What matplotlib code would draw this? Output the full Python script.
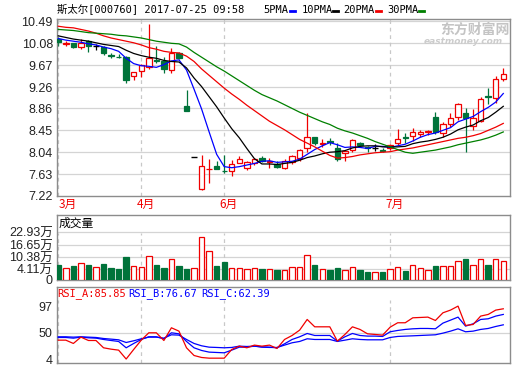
import numpy as np
import matplotlib
matplotlib.use('Agg')
import matplotlib.pyplot as plt
from matplotlib.lines import Line2D

plt.rcParams['font.family'] = ['Liberation Sans', 'Noto Sans CJK SC']

# ---- daily candles ----
opens = [10.17, 10.07, 10.08, 10.01, 10.13, 10.03, 10.02, 9.86, 9.83, 9.82,
         9.47, 9.57, 9.64, 9.77, 9.75, 9.58, 9.90, 8.91, 7.95, 7.35,
         7.72, 7.78, 7.69, 7.69, 7.83, 7.75, 7.83, 7.93, 7.86, 7.82,
         7.74, 7.85, 7.93, 8.12, 8.32, 8.19, 8.25, 8.12, 8.02, 8.09,
         8.21, 8.13, 8.12, 8.08, 8.12, 8.22, 8.32, 8.35, 8.38, 8.41,
         8.70, 8.40, 8.56, 8.70, 8.78, 8.54, 8.63, 9.09, 9.06, 9.41]
highs = [10.19, 10.12, 10.09, 10.17, 10.14, 10.07, 10.03, 9.89, 9.88, 9.84,
         9.55, 9.69, 10.44, 10.03, 9.82, 9.99, 9.92, 9.21, 7.95, 7.98,
         7.92, 7.88, 7.99, 7.90, 7.96, 7.88, 7.94, 7.96, 7.93, 7.88,
         7.91, 7.99, 8.10, 8.78, 8.33, 8.29, 8.30, 8.21, 8.07, 8.28,
         8.24, 8.16, 8.20, 8.12, 8.20, 8.48, 8.40, 8.50, 8.45, 8.46,
         8.79, 8.61, 8.78, 8.96, 8.87, 8.85, 9.07, 9.25, 9.46, 9.61]
lows = [10.03, 10.03, 9.99, 9.98, 9.92, 9.95, 9.87, 9.80, 9.80, 9.34,
        9.40, 9.45, 9.59, 9.72, 9.53, 9.53, 9.79, 8.82, 7.95, 7.33,
        7.47, 7.72, 7.65, 7.60, 7.83, 7.71, 7.81, 7.85, 7.74, 7.74,
        7.72, 7.82, 7.88, 8.05, 8.18, 8.13, 8.17, 7.88, 7.87, 8.04,
        8.14, 8.04, 8.07, 8.04, 8.09, 8.18, 8.21, 8.25, 8.33, 8.36,
        8.38, 8.33, 8.52, 8.65, 8.05, 8.46, 8.61, 8.94, 8.96, 9.38]
closes = [10.10, 10.08, 10.01, 10.08, 10.03, 10.03, 9.90, 9.85, 9.82, 9.39,
          9.55, 9.67, 9.81, 9.75, 9.60, 9.90, 9.81, 8.82, 7.95, 7.79,
          7.73, 7.72, 7.68, 7.82, 7.91, 7.85, 7.91, 7.87, 7.87, 7.76,
          7.88, 7.96, 8.09, 8.32, 8.22, 8.21, 8.24, 7.91, 8.07, 8.26,
          8.17, 8.12, 8.12, 8.07, 8.18, 8.29, 8.31, 8.41, 8.41, 8.44,
          8.42, 8.56, 8.68, 8.94, 8.68, 8.68, 9.04, 9.08, 9.41, 9.50]

# moving averages as drawn
ma5 = [10.17, 10.14, 10.12, 10.10, 10.07, 10.05, 10.01, 9.98, 9.93, 9.80,
       9.70, 9.66, 9.65, 9.63, 9.68, 9.75, 9.77, 9.58, 9.22, 8.85,
       8.42, 8.00, 7.77, 7.75, 7.77, 7.80, 7.83, 7.87, 7.88, 7.85,
       7.86, 7.87, 7.91, 8.00, 8.09, 8.16, 8.22, 8.18, 8.13, 8.14,
       8.13, 8.11, 8.15, 8.15, 8.13, 8.16, 8.19, 8.25, 8.32, 8.37,
       8.40, 8.45, 8.50, 8.61, 8.66, 8.71, 8.80, 8.88, 8.98, 9.14]
ma10 = [10.22, 10.19, 10.16, 10.14, 10.12, 10.09, 10.06, 10.04, 10.02, 9.95,
        9.89, 9.85, 9.82, 9.80, 9.76, 9.74, 9.73, 9.62, 9.43, 9.27,
        9.08, 8.89, 8.68, 8.48, 8.31, 8.11, 7.92, 7.82, 7.82, 7.81,
        7.83, 7.85, 7.89, 7.94, 7.97, 8.01, 8.04, 8.05, 8.07, 8.12,
        8.15, 8.16, 8.16, 8.14, 8.14, 8.14, 8.15, 8.20, 8.23, 8.25,
        8.28, 8.32, 8.38, 8.46, 8.51, 8.55, 8.63, 8.69, 8.79, 8.90]
ma20 = [10.40, 10.38, 10.37, 10.34, 10.31, 10.27, 10.22, 10.18, 10.15, 10.12,
        10.09, 10.05, 10.00, 9.97, 9.93, 9.91, 9.90, 9.84, 9.74, 9.60,
        9.48, 9.36, 9.24, 9.13, 9.03, 8.92, 8.82, 8.72, 8.62, 8.54,
        8.46, 8.37, 8.28, 8.21, 8.14, 8.06, 7.98, 7.93, 7.94, 7.96,
        7.99, 8.01, 8.03, 8.04, 8.05, 8.08, 8.10, 8.12, 8.15, 8.18,
        8.21, 8.24, 8.27, 8.30, 8.32, 8.35, 8.39, 8.45, 8.51, 8.58]
ma30 = [10.34, 10.33, 10.32, 10.30, 10.28, 10.27, 10.26, 10.25, 10.23, 10.22,
        10.20, 10.18, 10.15, 10.12, 10.10, 10.08, 10.07, 10.01, 9.91, 9.82,
        9.73, 9.64, 9.56, 9.47, 9.38, 9.29, 9.20, 9.12, 9.06, 9.00,
        8.93, 8.86, 8.79, 8.73, 8.67, 8.61, 8.56, 8.49, 8.44, 8.40,
        8.35, 8.30, 8.24, 8.19, 8.14, 8.09, 8.04, 8.02, 8.04, 8.06,
        8.08, 8.11, 8.14, 8.18, 8.21, 8.24, 8.27, 8.31, 8.36, 8.42]

# volume, in 万
volume = [8.06, 6.27, 7.52, 8.95, 8.06, 6.80, 8.60, 6.63, 5.91, 12.36,
          7.34, 6.98, 12.71, 8.06, 6.45, 11.10, 7.52, 5.91, 6.27, 22.93,
          15.40, 7.52, 9.49, 6.27, 6.63, 5.73, 6.27, 5.73, 5.73, 5.37,
          5.19, 6.80, 6.80, 13.25, 8.06, 5.73, 5.37, 6.27, 5.19, 7.16,
          5.37, 4.11, 4.48, 4.30, 5.73, 7.16, 4.84, 7.88, 6.27, 5.19,
          7.52, 7.34, 7.34, 10.03, 11.28, 7.88, 11.10, 8.06, 11.10, 10.03]

# RSI lines
rsi_a = [37.1, 37.1, 31.3, 42.4, 36.5, 36.5, 23.7, 21.3, 19.6, 4.0,
         20.8, 37.1, 50.0, 50.0, 36.5, 58.8, 52.9, 23.7, 10.2, 6.7,
         5.5, 5.5, 5.5, 20.8, 26.6, 23.7, 28.4, 26.6, 28.4, 22.5,
         38.3, 45.3, 54.7, 73.4, 60.5, 60.5, 60.5, 35.4, 47.1, 60.5,
         55.9, 48.2, 47.1, 45.9, 59.9, 67.6, 67.6, 76.3, 76.9, 77.5,
         71.6, 85.1, 89.8, 96.8, 62.9, 64.6, 79.3, 82.2, 89.8, 92.1]
rsi_b = [41.8, 41.8, 40.6, 42.4, 41.2, 40.6, 38.3, 36.5, 34.8, 23.7,
         31.3, 38.3, 43.0, 43.0, 39.5, 50.0, 48.2, 34.8, 23.7, 19.0,
         16.1, 15.5, 14.9, 19.6, 24.8, 24.8, 26.6, 25.4, 24.8, 23.7,
         30.7, 38.3, 43.0, 48.8, 45.3, 45.3, 45.3, 35.4, 43.0, 48.8,
         45.3, 44.2, 44.2, 43.6, 51.8, 54.1, 55.9, 57.0, 57.6, 57.6,
         57.0, 67.0, 72.2, 77.5, 61.7, 65.8, 73.4, 74.6, 79.3, 82.2]
rsi_c = [43.0, 43.0, 42.4, 43.0, 42.4, 41.8, 40.0, 38.9, 37.7, 33.0,
         36.0, 39.5, 42.4, 42.4, 40.6, 46.5, 45.9, 38.3, 31.3, 27.2,
         24.8, 24.3, 23.7, 24.3, 26.6, 26.0, 26.6, 24.8, 24.3, 24.3,
         28.4, 32.5, 34.8, 39.5, 38.3, 38.3, 38.3, 34.8, 37.1, 39.5,
         38.3, 37.7, 37.7, 37.7, 41.8, 43.6, 44.2, 44.7, 45.3, 45.9,
         46.5, 49.4, 52.9, 57.0, 51.8, 52.9, 55.9, 57.6, 61.1, 64.0]

price_ticks = [7.22, 7.63, 8.04, 8.45, 8.86, 9.26, 9.67, 10.08, 10.49]
vol_labels = ['0', '4.11万', '10.38万', '16.65万', '22.93万']
rsi_ticks = [4, 50, 97]
month_idx = [0, 11, 22, 44]
month_labels = ['3月', '4月', '6月', '7月']

RED = '#f00000'
GREEN = '#00733a'
BLUE = '#0000ff'
GRID = '#d4d4d4'
FRAME = '#8c8c8c'
MONO = ['DejaVu Sans Mono', 'Noto Sans CJK SC']

o = np.array(opens); c = np.array(closes)
x = np.arange(len(c))
up = c > o
down = c < o
flat = c == o
W = 0.72

fig = plt.figure(figsize=(5.2, 3.65), dpi=100)
ax1 = fig.add_axes([57/520, 1-196/365, 453/520, 176.7/365])
ax2 = fig.add_axes([57/520, 1-280/365, 453/520, 65/365])
ax3 = fig.add_axes([57/520, 1-363.3/365, 453/520, 76/365])

for ax in (ax1, ax2, ax3):
    for sp in ax.spines.values():
        sp.set_color(FRAME)
        sp.set_linewidth(1)
    ax.set_xlim(-0.17, 59.89)
    ax.set_xticks([])
    ax.tick_params(axis='y', length=0, pad=3, labelsize=9, labelcolor='#222')

# ---- price panel ----
ax1.set_ylim(7.22, 10.53)
ax1.set_yticks(price_ticks)
ax1.set_yticklabels(['%.2f' % v for v in price_ticks])
for v in price_ticks[1:]:
    ax1.axhline(v, color=GRID, lw=0.9, zorder=0)
for m in month_idx:
    ax1.axvline(m, color='#c8c8c8', lw=0.9, ls=(0, (3, 3)), zorder=0)

cols = np.where(up, RED, np.where(down, GREEN, 'black'))
ax1.vlines(x, lows, highs, colors=cols, lw=0.9, zorder=2)
ax1.bar(x[up], (c - o)[up], bottom=o[up], width=W, facecolor='white',
        edgecolor=RED, lw=0.9, zorder=3)
ax1.bar(x[down], (o - c)[down], bottom=c[down], width=W, facecolor=GREEN,
        edgecolor=GREEN, lw=0.9, zorder=3)
ax1.hlines(c[flat], x[flat] - W/2, x[flat] + W/2, colors='black', lw=1, zorder=3)

ma_sets = [(ma5, BLUE, '5PMA'), (ma10, 'black', '10PMA'),
           (ma20, RED, '20PMA'), (ma30, '#008000', '30PMA')]
for vals, col, name in ma_sets:
    ax1.plot(x, vals, color=col, lw=0.9, zorder=4)

for m, lab in zip(month_idx, month_labels):
    ax1.annotate(lab, xy=(max(m + 0.55, 1.3), -0.048), xycoords=('data', 'axes fraction'),
                 ha='center', va='center', color=RED, fontsize=8.5,
                 family=['Noto Sans CJK SC'])

# header
fig.text(57/520, 1-10/365, '斯太尔[000760] 2017-07-25 09:58', family=MONO,
         fontsize=7.5, va='center', ha='left')
text_x = [263, 302, 343, 387]
bar_x = [290, 333, 376, 419]
for (vals, col, name), tx, bx in zip(ma_sets, text_x, bar_x):
    fig.text(tx/520, 1-10/365, name, family=MONO, fontsize=7.5, va='center', ha='left')
    fig.add_artist(Line2D([bx/520, (bx+5)/520], [1-11/365, 1-11/365],
                          transform=fig.transFigure, color=col, lw=2))

# watermark
fig.text(475/520, 1-30/365, '东方财富网', family=['Noto Sans CJK SC'], fontsize=10,
         weight='bold', color='#c4c4c4', ha='center', va='center')
fig.text(463/520, 1-41.5/365, 'eastmoney.com', family=['DejaVu Sans'], fontsize=6.5,
         weight='bold', style='italic', color='#cccccc', ha='center', va='center')

# ---- volume panel ----
ax2.set_ylim(0, 34.9)
vol_pos = [0, 5.91, 12.19, 18.80, 25.61]
ax2.set_yticks(vol_pos)
ax2.set_yticklabels(vol_labels)
for v in vol_pos[1:]:
    ax2.axhline(v, color=GRID, lw=0.9, zorder=0)
for m in month_idx:
    ax2.axvline(m, ymax=0.73, color='#c8c8c8', lw=0.9, ls=(0, (3, 3)), zorder=0)
vol = np.array(volume)
vup = ~down
ax2.bar(x[vup], vol[vup], width=W, facecolor='white', edgecolor=RED, lw=0.9, zorder=3)
ax2.bar(x[down], vol[down], width=W, facecolor=GREEN, edgecolor=GREEN, lw=0.9, zorder=3)
ax2.text(0.003, 1-8/65, '成交量', transform=ax2.transAxes, family=['Noto Sans CJK SC'],
         fontsize=8.5, ha='left', va='center')

# ---- RSI panel ----
ax3.set_ylim(-3.5, 129.8)
ax3.set_yticks(rsi_ticks)
ax3.set_yticklabels([str(v) for v in rsi_ticks])
ax3.axhline(50, color=GRID, lw=0.9, zorder=0)
for m in month_idx:
    ax3.axvline(m, ymax=0.833, color='#c8c8c8', lw=0.9, ls=(0, (3, 3)), zorder=0)
ax3.plot(x, rsi_c, color=BLUE, lw=0.9, zorder=3)
ax3.plot(x, rsi_b, color=BLUE, lw=0.9, zorder=3)
ax3.plot(x, rsi_a, color=RED, lw=0.9, zorder=4)
rsi_head = [('RSI_A:85.85', RED, 57), ('RSI_B:76.67', BLUE, 128), ('RSI_C:62.39', BLUE, 201)]
for txt, col, px in rsi_head:
    fig.text(px/520, 1-294/365, txt, family=MONO, fontsize=7.5, color=col,
             va='center', ha='left')

fig.savefig('out.png', dpi=100)
